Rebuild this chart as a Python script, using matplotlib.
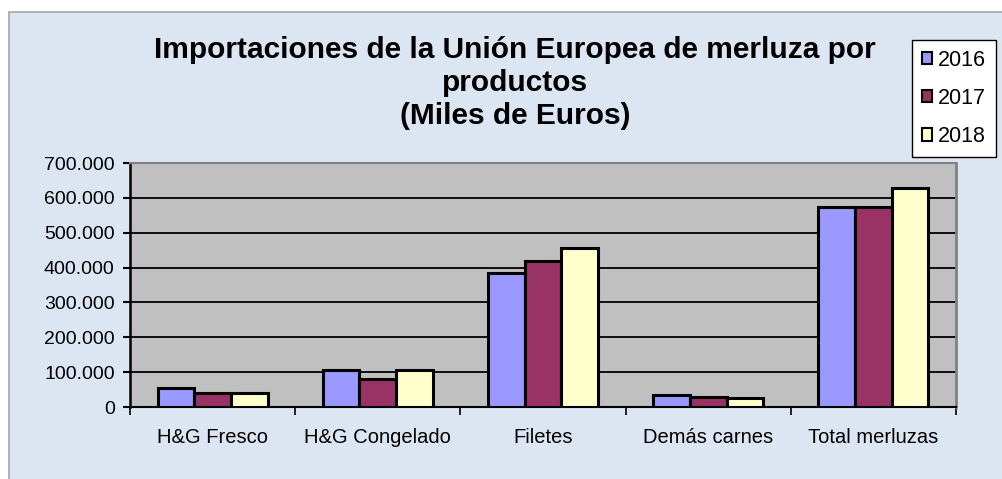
import matplotlib
matplotlib.use("Agg")
import matplotlib.pyplot as plt
import matplotlib.patches as patches
import numpy as np

categories = ["H&G Fresco", "H&G Congelado", "Filetes", "Demás carnes", "Total merluzas"]
years = ["2016", "2017", "2018"]
v2016 = [54000, 106000, 385000, 33000, 573000]
v2017 = [39000, 81000, 418000, 28000, 573000]
v2018 = [39000, 106000, 455000, 25000, 627000]
yticks = [0, 100000, 200000, 300000, 400000, 500000, 600000, 700000]
ytick_labels = ["0", "100.000", "200.000", "300.000", "400.000", "500.000", "600.000", "700.000"]

colors = ["#9999FF", "#993366", "#FFFFCC"]

plt.rcParams['font.family'] = ['Liberation Sans', 'DejaVu Sans']

W, H = 1002, 479
fig = plt.figure(figsize=(W / 100, H / 100), dpi=100, facecolor="white")

# chart area background (behind everything)
bg = patches.Rectangle((9 / W, -0.01), 1.1, (H - 12) / H + 0.01, transform=fig.transFigure,
                       facecolor="#DCE6F2", edgecolor="#A6A6A6", linewidth=1.2, zorder=-10)
fig.patches.append(bg)

ax = fig.add_axes([130 / W, (H - 407) / H, (956 - 130) / W, (407 - 163) / H])
ax.set_facecolor("#C0C0C0")

x = np.arange(len(categories))
bw = 0.222
series = [v2016, v2017, v2018]
for i, vals in enumerate(series):
    ax.bar(x + (i - 1) * bw, vals, bw, color=colors[i], edgecolor="black",
           linewidth=2.2, label=years[i], zorder=3)

ax.set_xlim(-0.5, len(categories) - 0.5)
ax.set_ylim(0, 700000)
ax.set_yticks(yticks)
ax.set_yticklabels(ytick_labels, fontsize=14)
ax.set_xticks(x)
ax.set_xticklabels(categories, fontsize=14.5)
ax.set_xticks(np.arange(-0.5, len(categories)), minor=True)
ax.tick_params(axis="x", which="major", length=0, pad=15)
ax.tick_params(axis="x", which="minor", length=6, width=1.2, direction="out")
ax.tick_params(axis="y", length=5, width=1.5, direction="out", pad=6)

ax.grid(axis="y", color="black", linewidth=1.3)
ax.set_axisbelow(True)

ax.spines["left"].set_color("black")
ax.spines["left"].set_linewidth(1.8)
ax.spines["bottom"].set_color("black")
ax.spines["bottom"].set_linewidth(1.5)
ax.spines["top"].set_color("#808080")
ax.spines["top"].set_linewidth(1.5)
ax.spines["right"].set_color("#808080")
ax.spines["right"].set_linewidth(2)

fig.text(515 / W, 1 - 36 / H, "Importaciones de la Unión Europea de merluza por\nproductos\n(Miles de Euros)",
         ha="center", va="top", fontsize=21.5, fontweight="bold", linespacing=1.22)

leg = ax.legend(loc="upper left", bbox_to_anchor=(912 / W, 1 - 40 / H),
                bbox_transform=fig.transFigure, frameon=True, fancybox=False,
                fontsize=15.5, handlelength=0.5, handleheight=0.5, handletextpad=0.25,
                labelspacing=0.8, borderpad=0.45, borderaxespad=0)
leg.get_frame().set_edgecolor("black")
leg.get_frame().set_linewidth(1.0)
leg.get_frame().set_facecolor("white")
leg.get_frame().set_alpha(1)
for hnd in leg.legend_handles:
    hnd.set_linewidth(1.5)

fig.savefig("out.png", dpi=100, facecolor="white")
